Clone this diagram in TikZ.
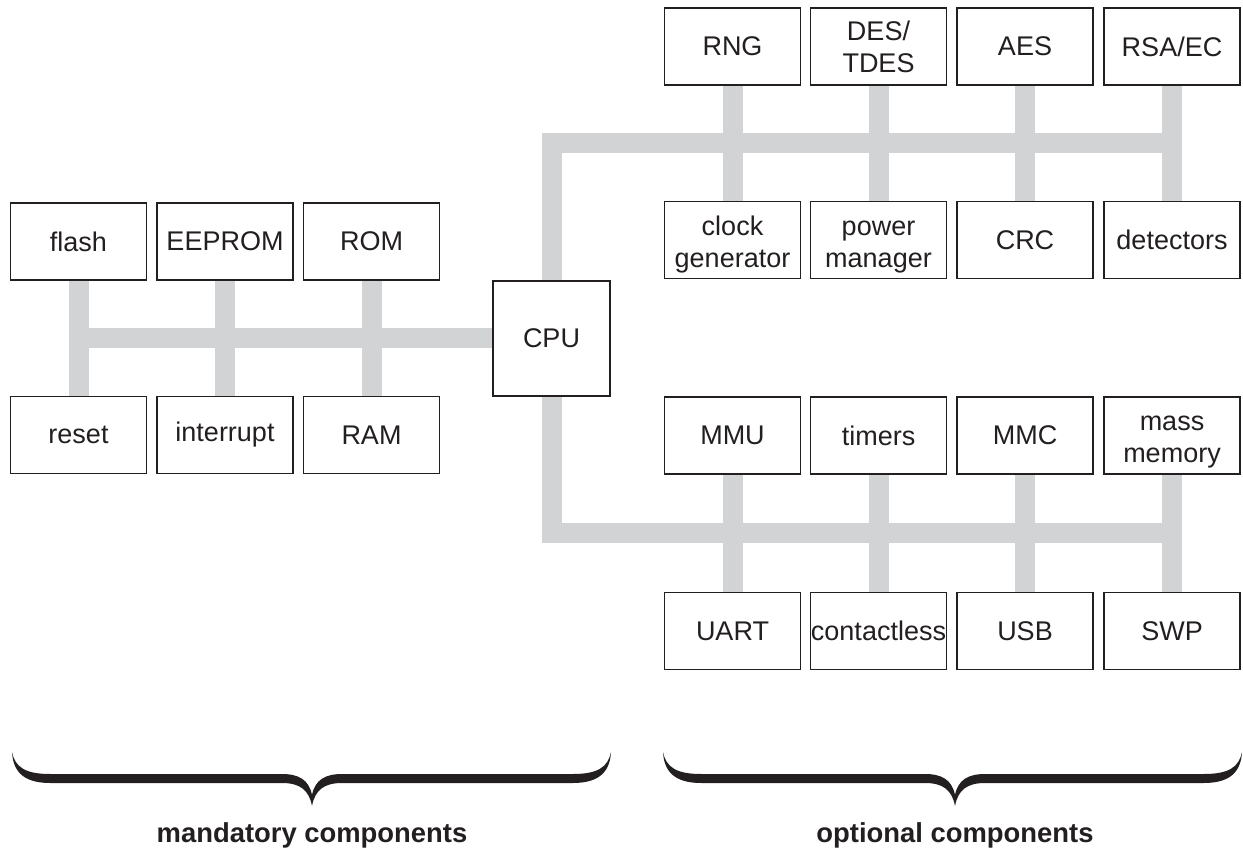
\documentclass[tikz,border=0pt]{standalone}
\usepackage{fontspec}
\setmainfont{Liberation Sans}
\usetikzlibrary{calc,backgrounds}
\definecolor{busgray}{RGB}{209,211,212}
\definecolor{ink}{RGB}{35,31,32}
\newcommand\topstrut{\rule{0pt}{28pt}}
\begin{document}
\begin{tikzpicture}[x=1pt,y=-1pt,
  box/.style={draw=ink, line width=1.3pt, fill=white, minimum width=136pt, minimum height=77pt,
    inner sep=0pt, align=center, font=\fontsize{27}{32}\selectfont, text=ink},
  bus/.style={busgray, line width=20pt, line join=miter},
  lbl/.style={font=\fontsize{27.4}{31}\selectfont\bfseries, text=ink, anchor=base},
  bracefill/.style={fill=ink}]
\useasboundingbox (0,0) rectangle (1243,850);

% left (mandatory) components
\node[box] (flash)  at (78.5,241.5) {flash};
\node[box] (eeprom) at (225,241.5)  {EEPROM};
\node[box] (rom)    at (371.5,241.5){ROM};
\node[box] (reset)  at (78.5,435)   {reset};
\node[box] (intr)   at (225,435)    {interrupt};
\node[box] (ram)    at (371.5,435)  {RAM};
\node[box, minimum width=117pt, minimum height=115pt] (cpu) at (551.5,338.5) {CPU};

% right (optional) components
\node[box] (rng)  at (732.5,46.5) {RNG};
\node[box] (des)  at (878.5,46.5) {DES/\\TDES};
\node[box] (aes)  at (1025,46.5)  {AES};
\node[box] (rsa)  at (1172,46.5)  {RSA/EC};
\node[box] (clk)  at (732.5,240)  {\topstrut clock\\generator};
\node[box] (pwr)  at (878.5,240)  {\topstrut power\\manager};
\node[box] (crc)  at (1025,240)   {CRC};
\node[box] (det)  at (1172,240)   {detectors};
\node[box] (mmu)  at (732.5,435.5){MMU};
\node[box] (tim)  at (878.5,435.5){timers};
\node[box] (mmc)  at (1025,435.5) {MMC};
\node[box] (mass) at (1172,435.5) {\topstrut mass\\memory};
\node[box] (uart) at (732.5,631)  {UART};
\node[box] (cless) at (878.5,631) {contactless};
\node[box] (usb)  at (1025,631)   {USB};
\node[box] (swp)  at (1172,631)   {SWP};

\begin{scope}[on background layer]
  \draw[bus] (flash.south) -- (reset.north);
  \draw[bus] (eeprom.south) -- (intr.north);
  \draw[bus] (rom.south) -- (ram.north);
  \draw[bus] (cpu.west) -- (cpu.west -| flash.south);
  \draw[bus] (cpu.north) |- ($(rsa.south)!.5!(det.north)$);
  \draw[bus] (cpu.south) |- ($(mass.south)!.5!(swp.north)$);
  \draw[bus] (rng.south) -- (clk.north);
  \draw[bus] (des.south) -- (pwr.north);
  \draw[bus] (aes.south) -- (crc.north);
  \draw[bus] (rsa.south) -- (det.north);
  \draw[bus] (mmu.south) -- (uart.north);
  \draw[bus] (tim.south) -- (cless.north);
  \draw[bus] (mmc.south) -- (usb.north);
  \draw[bus] (mass.south) -- (swp.north);
\end{scope}

% braces
\fill[bracefill] (12,752) .. controls (13,770) and (22,783) .. (50,783) -- (282,783)
  .. controls (300,783) and (309,790) .. (312,806)
  .. controls (315,790) and (324,783) .. (342,783) -- (573,783)
  .. controls (601,783) and (610,770) .. (611,752)
  .. controls (608,767) and (598,774) .. (573,774) -- (342,774)
  .. controls (325,774) and (315,780) .. (312,795)
  .. controls (309,780) and (299,774) .. (282,774) -- (50,774)
  .. controls (25,774) and (15,767) .. (12,752) -- cycle;
\fill[bracefill] (663,752) .. controls (664,770) and (673,783) .. (701,783) -- (925,783)
  .. controls (943,783) and (952,790) .. (955,806)
  .. controls (958,790) and (967,783) .. (985,783) -- (1204,783)
  .. controls (1232,783) and (1241,770) .. (1242,752)
  .. controls (1239,767) and (1229,774) .. (1204,774) -- (985,774)
  .. controls (968,774) and (958,780) .. (955,795)
  .. controls (952,780) and (942,774) .. (925,774) -- (701,774)
  .. controls (676,774) and (666,767) .. (663,752) -- cycle;

\node[lbl] (mand) at (312,842) {mandatory components};
\node[lbl] (opt)  at (955,842) {optional components};
\end{tikzpicture}
\end{document}
